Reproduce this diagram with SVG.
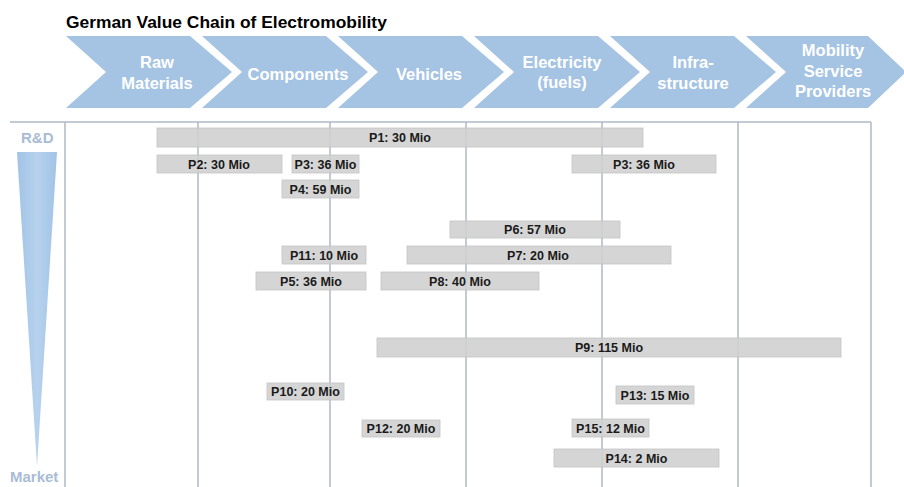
<svg xmlns="http://www.w3.org/2000/svg" width="904" height="487" viewBox="0 0 904 487">
<defs>
<style>
.title{font-family:"Liberation Sans",Arial,sans-serif;font-weight:bold;font-size:17.4px;fill:#000}
.chev{fill:#a5c3e3}
.cl{font-family:"Liberation Sans",Arial,sans-serif;font-weight:bold;font-size:16.5px;fill:#fff;text-anchor:middle}
.grid{stroke:#aeb8c4;stroke-width:1.5;fill:none}
.side{font-family:"Liberation Sans",Arial,sans-serif;font-weight:bold;font-size:15px;fill:#a9bcd4}
.bar{fill:#cfcfcf;fill-opacity:0.88;stroke:#c4c4c4;stroke-width:0.8}
.bl{font-family:"Liberation Sans",Arial,sans-serif;font-weight:bold;font-size:12.5px;fill:#1a1a1a;text-anchor:middle}
</style>
<linearGradient id="tri" x1="0" y1="0" x2="1" y2="0">
<stop offset="0" stop-color="#a2c3e6"/>
<stop offset="0.5" stop-color="#b6d2ee"/>
<stop offset="1" stop-color="#a2c3e6"/>
</linearGradient>
</defs>
<rect width="904" height="487" fill="#fff"/>
<text class="title" x="66" y="28">German Value Chain of Electromobility</text>

<g id="chevrons">
<g id="c1"><polygon class="chev" points="66,36 190,36 232,72 190,108 66,108 106,72"/><text class="cl" x="157" y="68">Raw</text><text class="cl" x="157" y="89">Materials</text></g>
<g id="c2"><polygon class="chev" points="202,36 326,36 368,72 326,108 202,108 242,72"/><text class="cl" x="298" y="80">Components</text></g>
<g id="c3"><polygon class="chev" points="338,36 462,36 504,72 462,108 338,108 378,72"/><text class="cl" x="429" y="80">Vehicles</text></g>
<g id="c4"><polygon class="chev" points="474,36 598,36 640,72 598,108 474,108 514,72"/><text class="cl" x="562" y="68">Electricity</text><text class="cl" x="562" y="88">(fuels)</text></g>
<g id="c5"><polygon class="chev" points="610,36 734,36 776,72 734,108 610,108 650,72"/><text class="cl" x="693" y="68">Infra-</text><text class="cl" x="693" y="89">structure</text></g>
<g id="c6"><polygon class="chev" points="746,36 868,36 906,72 868,108 746,108 786,72"/><text class="cl" x="833" y="56">Mobility</text><text class="cl" x="833" y="77">Service</text><text class="cl" x="833" y="97">Providers</text></g>
</g>

<g id="grid">
<line class="grid" x1="10" y1="122" x2="871" y2="122"/>
<line class="grid" x1="65" y1="122" x2="65" y2="487"/>
<line class="grid" x1="198" y1="122" x2="198" y2="487"/>
<line class="grid" x1="330" y1="122" x2="330" y2="487"/>
<line class="grid" x1="466" y1="122" x2="466" y2="487"/>
<line class="grid" x1="602" y1="122" x2="602" y2="487"/>
<line class="grid" x1="738" y1="122" x2="738" y2="487"/>
<line class="grid" x1="871" y1="122" x2="871" y2="487"/>
</g>

<g id="axis">
<text class="side" x="21" y="143">R&amp;D</text>
<polygon points="17,152 57,152 37,466" fill="url(#tri)"/>
<text class="side" x="10" y="482">Market</text>
</g>

<g id="bars">
<g id="p1"><rect class="bar" x="157" y="128" width="486" height="19"/><text class="bl" x="400" y="142">P1: 30 Mio</text></g>
<g id="p2"><rect class="bar" x="157" y="155" width="125" height="18"/><text class="bl" x="219" y="168.5">P2: 30 Mio</text></g>
<g id="p3a"><rect class="bar" x="292" y="155" width="67" height="18"/><text class="bl" x="325.5" y="168.5">P3: 36 Mio</text></g>
<g id="p3b"><rect class="bar" x="572" y="155" width="144" height="18"/><text class="bl" x="644" y="168.5">P3: 36 Mio</text></g>
<g id="p4"><rect class="bar" x="282" y="180" width="77" height="18"/><text class="bl" x="320.5" y="193.5">P4: 59 Mio</text></g>
<g id="p6"><rect class="bar" x="450" y="221" width="170" height="17"/><text class="bl" x="535" y="234">P6: 57 Mio</text></g>
<g id="p7"><rect class="bar" x="407" y="246" width="264" height="18"/><text class="bl" x="538" y="259.5">P7: 20 Mio</text></g>
<g id="p11"><rect class="bar" x="282" y="246" width="84" height="18"/><text class="bl" x="324" y="259.5">P11: 10 Mio</text></g>
<g id="p5"><rect class="bar" x="256" y="272" width="110" height="18"/><text class="bl" x="311" y="285.5">P5: 36 Mio</text></g>
<g id="p8"><rect class="bar" x="381" y="272" width="158" height="18"/><text class="bl" x="460" y="285.5">P8: 40 Mio</text></g>
<g id="p9"><rect class="bar" x="377" y="338" width="464" height="19"/><text class="bl" x="609" y="352">P9: 115 Mio</text></g>
<g id="p10"><rect class="bar" x="267" y="383" width="77" height="17"/><text class="bl" x="305.5" y="396">P10: 20 Mio</text></g>
<g id="p13"><rect class="bar" x="616" y="386" width="78" height="18"/><text class="bl" x="655" y="399.5">P13: 15 Mio</text></g>
<g id="p12"><rect class="bar" x="362" y="420" width="78" height="17"/><text class="bl" x="401" y="433">P12: 20 Mio</text></g>
<g id="p15"><rect class="bar" x="572" y="419" width="77" height="18"/><text class="bl" x="610.5" y="432.5">P15: 12 Mio</text></g>
<g id="p14"><rect class="bar" x="554" y="449" width="165" height="18"/><text class="bl" x="636.5" y="462.5">P14: 2 Mio</text></g>
</g>
</svg>
